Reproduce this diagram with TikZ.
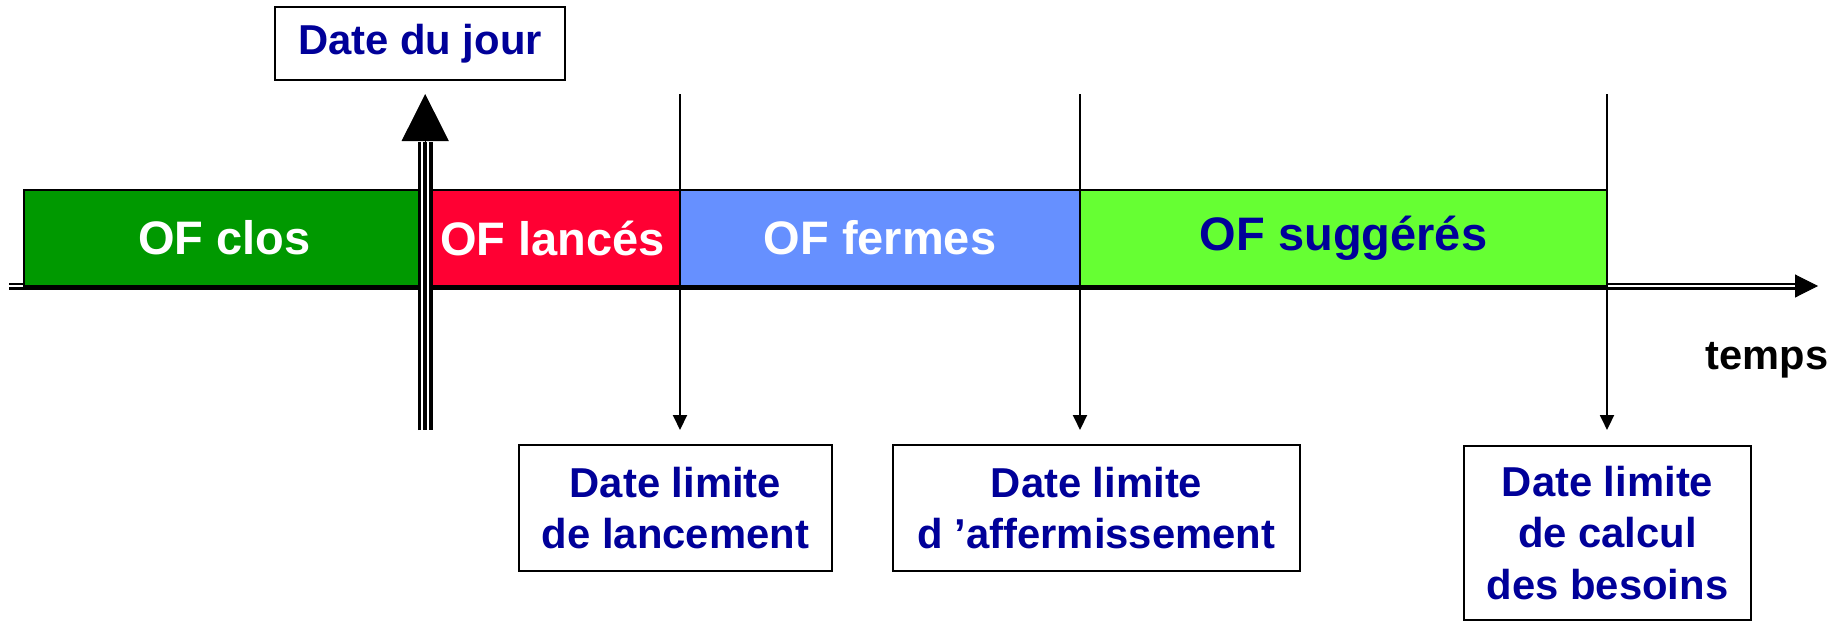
\documentclass[tikz,border=0pt]{standalone}
\usepackage{fontspec}
\setmainfont{Liberation Sans}
\usetikzlibrary{arrows.meta}
\definecolor{ofgreen}{HTML}{009900}
\definecolor{ofred}{HTML}{FF0033}
\definecolor{ofblue}{HTML}{6690FF}
\definecolor{oflime}{HTML}{66FF33}
\definecolor{txtblue}{HTML}{000099}
\begin{document}
\begin{tikzpicture}[x=0.5pt,y=-0.5pt,
  barbox/.style={draw=black, line width=1.25pt, inner sep=0pt, minimum height=48pt,
    font=\fontsize{23.5}{28}\selectfont\bfseries},
  datebox/.style={draw=black, line width=1pt, fill=white, inner sep=0pt, align=center,
    text=txtblue, font=\fontsize{20.9}{25.75}\selectfont\bfseries},
  limitarrow/.style={line width=1pt, -{Triangle[length=7.5pt,width=7pt]}},
]
\useasboundingbox (0,0) rectangle (1845,621);

% time axis
\coordinate (axL) at (9,286);
\coordinate (axR) at (1795,286);
\coordinate (axT) at (1818,286);
\draw[line width=1.3pt, double=white, double distance=0.9pt] (axL) -- (axR);
\draw[line width=0.5pt, -{Triangle[length=11.5pt,width=11.5pt]}] (axR) -- (axT);
\node[anchor=base, font=\fontsize{20.8}{24}\selectfont\bfseries] (temps) at (1767,369) {temps};

% bars
\node[barbox, fill=ofgreen, text=white, minimum width=200.5pt] (clos) at (224.5,238) {OF clos};
\node[barbox, fill=ofred, text=white, minimum width=127.5pt] (lances) at (552.5,238) {OF lancés};
\node[barbox, fill=ofblue, text=white, minimum width=200pt] (fermes) at (880,238) {OF fermes};
\node[barbox, fill=oflime, text=txtblue, minimum width=263.5pt] (sugg) at (1343.5,238) {OF suggérés};

% date du jour
\node[datebox, minimum width=145pt, minimum height=36.5pt] (jour) at (420,43.5) {Date du jour};
\coordinate (nowB) at (425.2,430);
\coordinate (nowH) at (425.2,141.5);
\coordinate (nowT) at (425.2,94);
\draw[line width=7.5pt] (nowB) -- (nowH);
\foreach \dx in {-1.625,1.625}
  \draw[line width=1pt, white] ([xshift=\dx pt]nowB) -- ([xshift=\dx pt]nowH);
\draw[line width=0.5pt, -{Triangle[length=23.5pt,width=23.5pt]}] (nowH) -- (nowT);

% limit dates
\coordinate (lanT) at (680,94);
\coordinate (lanB) at (680,430);
\coordinate (affT) at (1080,94);
\coordinate (affB) at (1080,430);
\coordinate (besT) at (1607,94);
\coordinate (besB) at (1607,430);
\draw[limitarrow] (lanT) -- (lanB);
\draw[limitarrow] (affT) -- (affB);
\draw[limitarrow] (besT) -- (besB);

\node[datebox, minimum width=156.5pt, minimum height=63pt] (lancement) at (675.5,508)
  {Date limite\\de lancement};
\node[datebox, minimum width=203.5pt, minimum height=63pt] (affermissement) at (1096.5,508)
  {Date limite\\d ’affermissement};
\node[datebox, minimum width=143.5pt, minimum height=87pt] (besoins) at (1607.5,533)
  {Date limite\\de calcul\\des besoins};
\end{tikzpicture}
\end{document}
